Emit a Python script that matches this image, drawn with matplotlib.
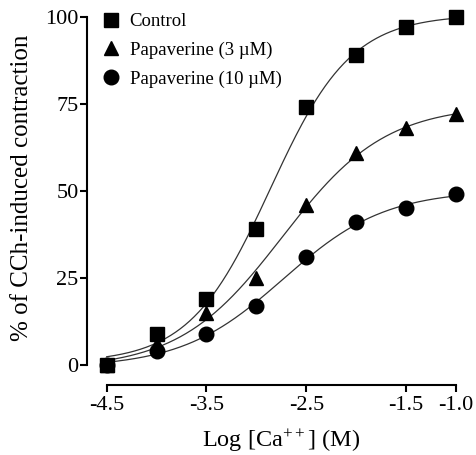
import numpy as np
import matplotlib
matplotlib.use("Agg")
import matplotlib.pyplot as plt

plt.rcParams['font.family'] = ['Liberation Serif', 'DejaVu Serif']
plt.rcParams['mathtext.fontset'] = 'custom'
plt.rcParams['mathtext.rm'] = 'Liberation Serif'
plt.rcParams['mathtext.it'] = 'Liberation Serif'

# log molar Ca++ concentrations and responses (% of CCh contraction)
log_ca = [-4.5, -4.0, -3.5, -3.0, -2.5, -2.0, -1.5, -1.0]
control = [0, 9, 19, 39, 74, 89, 97, 100]
papav_3 = [0, 6, 15, 25, 46, 61, 68, 72]
papav_10 = [0, 4, 9, 17, 31, 41, 45, 49]

series = [
    ("Control", control, "s", 9.5),
    ("Papaverine (3 \u00b5M)", papav_3, "^", 10.5),
    ("Papaverine (10 \u00b5M)", papav_10, "o", 10.5),
]


def fit_sigmoid(x, y):
    # four-parameter logistic: grid over EC50/slope, bottom/top by least squares
    x = np.asarray(x, float)
    y = np.asarray(y, float)
    best = None
    for ec in np.linspace(-4.5, -1.0, 351):
        for h in np.linspace(0.3, 3.0, 271):
            s = 1.0 / (1.0 + 10 ** ((ec - x) * h))
            A = np.column_stack([np.ones_like(s), s])
            coef, *_ = np.linalg.lstsq(A, y, rcond=None)
            err = np.sum((A @ coef - y) ** 2)
            if best is None or err < best[0]:
                best = (err, ec, h, coef)
    _, ec, h, (bottom, span) = best
    return lambda xx: bottom + span / (1.0 + 10 ** ((ec - xx) * h))


fig = plt.figure(figsize=(4.77, 4.55), dpi=100)
ax = fig.add_axes([0.1824, 0.1538, 0.956 - 0.1824, 0.9626 - 0.1538])

xs = np.linspace(-4.5, -1.0, 300)
for label, vals, mk, ms in series:
    curve = fit_sigmoid(log_ca, vals)
    ax.plot(xs, curve(xs), color="#333333", lw=0.9, zorder=2)
    ax.plot(log_ca, vals, linestyle="none", marker=mk, ms=ms, color="black",
            label=label, clip_on=False, zorder=3)

ax.set_xlim(-4.697, -1.0)
ax.set_ylim(-5.75, 100)
ax.set_xticks([-4.5, -3.5, -2.5, -1.5, -1.0])
ax.set_xticklabels(["-4.5", "-3.5", "-2.5", "-1.5", "-1.0"])
ax.set_yticks([0, 25, 50, 75, 100])

for side in ("top", "right"):
    ax.spines[side].set_visible(False)
ax.spines["left"].set_bounds(0, 100)
ax.spines["bottom"].set_bounds(-4.5, -1.0)
for side in ("left", "bottom"):
    ax.spines[side].set_linewidth(1.5)
ax.tick_params(direction="out", length=5, width=1.5, labelsize=16)
ax.tick_params(axis="y", pad=1)
ax.tick_params(axis="x", pad=3)

ax.set_xlabel("Log [Ca$^{++}$] (M)", fontsize=17.5)
ax.set_ylabel("% of CCh-induced contraction", fontsize=18)
# center the axis titles on the drawn spine extents
ax.xaxis.set_label_coords(0.527, -0.115)
ax.yaxis.set_label_coords(-0.145, 0.535)

ax.legend(loc="upper left", bbox_to_anchor=(0.197, 0.988),
          bbox_transform=fig.transFigure, frameon=False, fontsize=13.5,
          handletextpad=0.5, labelspacing=0.62, borderaxespad=0,
          handlelength=1.0)

fig.savefig("out.png", dpi=100)
